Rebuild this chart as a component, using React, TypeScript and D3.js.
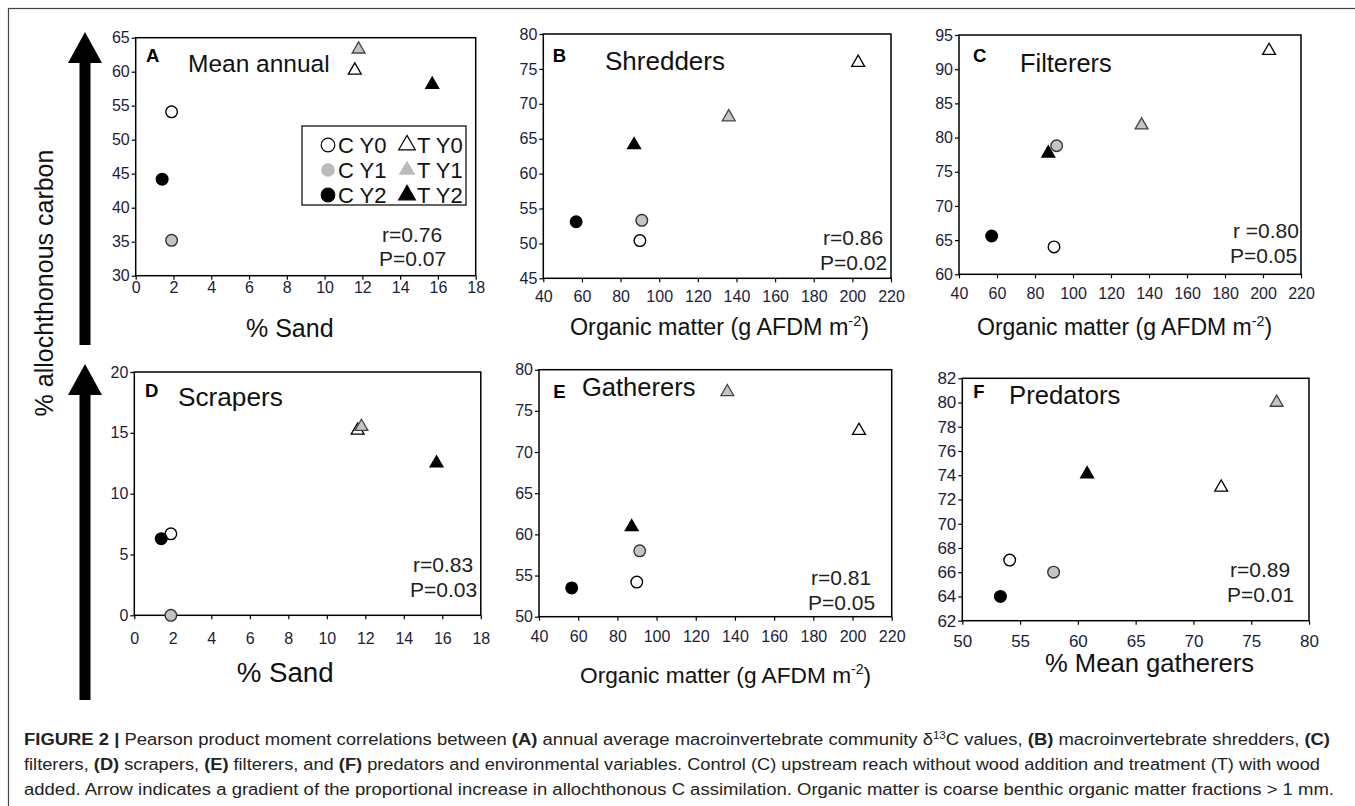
import * as d3 from "d3";
import { useEffect, useRef } from "react";

// groups: control / treatment reach, years 0-2
const groups = ["C Y0", "C Y1", "C Y2", "T Y0", "T Y1", "T Y2"];

// A - mean annual vs % sand
const meanSand = [1.9, 1.9, 1.4, 11.6, 11.8, 15.7];
const meanAlloc = [54.1, 35.2, 44.2, 60.2, 63.3, 58.1];
// B - shredders vs organic matter
const shredOM = [90, 91, 57, 203, 136, 87];
const shredAlloc = [50.4, 53.3, 53.1, 75.9, 68.1, 64.1];
// C - filterers vs organic matter
const filterOM = [90, 91.4, 57.2, 203.2, 136.1, 87];
const filterAlloc = [64, 78.8, 65.6, 92.7, 81.8, 77.7];
// D - scrapers vs % sand
const scraperSand = [1.9, 1.9, 1.4, 11.6, 11.8, 15.7];
const scraperAlloc = [6.7, 0, 6.3, 15.2, 15.5, 12.5];
// E - gatherers vs organic matter
const gatherOM = [89.9, 91.4, 56.7, 203.3, 136.1, 87.3];
const gatherAlloc = [54.2, 58.0, 53.5, 72.6, 77.3, 60.9];
// F - predators vs % mean gatherers
const predGatherers = [54.1, 57.9, 53.3, 72.4, 77.2, 60.8];
const predAlloc = [67, 66, 64, 73, 80, 74.1];

const sandTicks = [0, 2, 4, 6, 8, 10, 12, 14, 16, 18];
const omTicks = [40, 60, 80, 100, 120, 140, 160, 180, 200, 220];
const gathererTicks = [50, 55, 60, 65, 70, 75, 80];
const yTicksA = [30, 35, 40, 45, 50, 55, 60, 65];
const yTicksB = [45, 50, 55, 60, 65, 70, 75, 80];
const yTicksC = [60, 65, 70, 75, 80, 85, 90, 95];
const yTicksD = [0, 5, 10, 15, 20];
const yTicksE = [50, 55, 60, 65, 70, 75, 80];
const yTicksF = [62, 64, 66, 68, 70, 72, 74, 76, 78, 80, 82];

const panelLetters = ["A", "B", "C", "D", "E", "F"];
const panelTitles = ["Mean annual", "Shredders", "Filterers", "Scrapers", "Gatherers", "Predators"];
const rLabels = ["r=0.76", "r=0.86", "r =0.80", "r=0.83", "r=0.81", "r=0.89"];
const pLabels = ["P=0.07", "P=0.02", "P=0.05", "P=0.03", "P=0.05", "P=0.01"];
const xTitles = ["% Sand", "om", "om", "% Sand", "om", "% Mean gatherers"];

const FONT = "'Liberation Sans', Arial, sans-serif";
const GRAY = "#c4c4c4";

const App = () => {
  const svgRef = useRef<SVGSVGElement>(null);

  useEffect(() => {
    const svg = d3.select(svgRef.current);
    svg.selectAll("*").remove();

    // outer figure frame
    svg
      .append("rect")
      .attr("x", 8.5)
      .attr("y", 8.5)
      .attr("width", 1400)
      .attr("height", 900)
      .attr("fill", "none")
      .attr("stroke", "#444")
      .attr("stroke-width", 1.2);

    const panels = [
      { xs: meanSand, ys: meanAlloc, xd: [0, 18], yd: [30, 65], xt: sandTicks, yt: yTicksA,
        l: 135.7, r: 475.7, t: 37.7, b: 275.7, pad: 1.5, fs: 16,
        letter: [146, 62.3], title: [188, 71.5, 24.5], stats: [379, 241.7, 265.5], xTitle: [246, 337, 25] },
      { xs: shredOM, ys: shredAlloc, xd: [40, 220], yd: [45, 80], xt: omTicks, yt: yTicksB,
        l: 543.3, r: 891, t: 34, b: 278.3, pad: 8.5, fs: 16,
        letter: [552.7, 61.7], title: [605, 69.5, 26], stats: [820, 245, 270], xTitle: [570, 335, 23.3] },
      { xs: filterOM, ys: filterAlloc, xd: [40, 220], yd: [60, 95], xt: omTicks, yt: yTicksC,
        l: 959, r: 1301, t: 35, b: 274.3, pad: 9, fs: 16,
        letter: [973, 61.7], title: [1020, 71.7, 25.4], stats: [1230, 238.3, 263.3], xTitle: [977, 335, 23] },
      { xs: scraperSand, ys: scraperAlloc, xd: [0, 18], yd: [0, 20], xt: sandTicks, yt: yTicksD,
        l: 134.3, r: 480.8, t: 372, b: 615.3, pad: 13, fs: 16,
        letter: [145, 396.7], title: [178, 406, 26.2], stats: [410, 571.7, 596.7], xTitle: [236.7, 681.7, 27.7] },
      { xs: gatherOM, ys: gatherAlloc, xd: [40, 220], yd: [50, 80], xt: omTicks, yt: yTicksE,
        l: 539, r: 891.7, t: 369.7, b: 616.7, pad: 10, fs: 16,
        letter: [553.3, 398.3], title: [582, 396, 25.5], stats: [808, 585, 610], xTitle: [580, 683.3, 22.7] },
      { xs: predGatherers, ys: predAlloc, xd: [50, 80], yd: [62, 82], xt: gathererTicks, yt: yTicksF,
        l: 962.3, r: 1309, t: 378.3, b: 620.7, pad: 10, fs: 17,
        letter: [973.3, 398.3], title: [1009, 404.3, 25.7], stats: [1227, 576.7, 601.7], xTitle: [1045, 672, 25.6] },
    ];

    const circle = (i: number) => i < 3;
    const fillOf = (i: number) => ["#fff", GRAY, "#000"][i % 3];
    const triangle = d3.symbol().type(d3.symbolTriangle);

    panels.forEach((p, k) => {
      const x = d3.scaleLinear().domain(p.xd).range([p.l, p.r]);
      const y = d3.scaleLinear().domain(p.yd).range([p.b, p.t]);
      const g = svg.append("g");

      const xAxis = g
        .append("g")
        .attr("transform", `translate(0,${p.b})`)
        .call(d3.axisBottom(x).tickValues(p.xt).tickSize(4).tickSizeOuter(0).tickPadding(p.pad));
      const yAxis = g
        .append("g")
        .attr("transform", `translate(${p.l},0)`)
        .call(d3.axisLeft(y).tickValues(p.yt).tickSize(4).tickSizeOuter(0).tickPadding(2));
      [xAxis, yAxis].forEach((ax) => {
        ax.select(".domain").remove();
        ax.selectAll("line").attr("stroke", "#000").attr("stroke-width", 1.2);
        ax.selectAll("text")
          .attr("font-family", FONT)
          .attr("font-size", p.fs)
          .attr("fill", "#1c1c3c");
      });

      g.append("rect")
        .attr("x", p.l)
        .attr("y", p.t)
        .attr("width", p.r - p.l)
        .attr("height", p.b - p.t)
        .attr("fill", "none")
        .attr("stroke", "#000")
        .attr("stroke-width", 1.5);

      // points
      const pts = groups.map((grp, i) => ({ grp, i, x: p.xs[i], y: p.ys[i] }));
      g.selectAll(".dot")
        .data(pts.filter((d) => circle(d.i)))
        .enter()
        .append("circle")
        .attr("cx", (d) => x(d.x))
        .attr("cy", (d) => y(d.y))
        .attr("r", 5.8)
        .attr("fill", (d) => fillOf(d.i))
        .attr("stroke", (d) => (d.i === 1 ? "#333" : "#000"))
        .attr("stroke-width", 1.4);
      g.selectAll(".tri")
        .data(pts.filter((d) => !circle(d.i)))
        .enter()
        .append("path")
        .attr("d", triangle.size(72)())
        .attr("transform", (d) => `translate(${x(d.x)},${y(d.y)})`)
        .attr("fill", (d) => fillOf(d.i))
        .attr("stroke", (d) => (d.i === 4 ? "#444" : "#000"))
        .attr("stroke-width", 1.3);

      // labels
      g.append("text")
        .attr("x", p.letter[0])
        .attr("y", p.letter[1])
        .attr("font-family", FONT)
        .attr("font-weight", "bold")
        .attr("font-size", 18.5)
        .text(panelLetters[k]);
      g.append("text")
        .attr("x", p.title[0])
        .attr("y", p.title[1])
        .attr("font-family", FONT)
        .attr("font-size", p.title[2])
        .attr("fill", "#111")
        .text(panelTitles[k]);
      g.append("text")
        .attr("x", p.stats[0] + 3)
        .attr("y", p.stats[1])
        .attr("font-family", FONT)
        .attr("font-size", 21)
        .attr("fill", "#222")
        .text(rLabels[k]);
      g.append("text")
        .attr("x", p.stats[0])
        .attr("y", p.stats[2])
        .attr("font-family", FONT)
        .attr("font-size", 21)
        .attr("fill", "#222")
        .text(pLabels[k]);

      const xt = g
        .append("text")
        .attr("x", p.xTitle[0])
        .attr("y", p.xTitle[1])
        .attr("font-family", FONT)
        .attr("font-size", p.xTitle[2])
        .attr("fill", "#111");
      if (xTitles[k] === "om") {
        xt.append("tspan").text("Organic matter (g AFDM m");
        xt.append("tspan").attr("dy", -9).attr("font-size", p.xTitle[2] * 0.62).text("-2");
        xt.append("tspan").attr("dy", 9).text(")");
      } else {
        xt.text(xTitles[k]);
      }
    });

    // legend in panel A
    const lg = svg.append("g");
    lg.append("rect")
      .attr("x", 302)
      .attr("y", 126)
      .attr("width", 164)
      .attr("height", 79)
      .attr("fill", "#fff")
      .attr("stroke", "#000")
      .attr("stroke-width", 1.2);
    const rowY = d3.scalePoint().domain(["0", "1", "2"]).range([145, 195]);
    groups.forEach((grp, i) => {
      const yy = rowY(String(i % 3)) as number;
      const cx = circle(i) ? 328 : 407;
      if (circle(i)) {
        lg.append("circle")
          .attr("cx", cx)
          .attr("cy", yy)
          .attr("r", 6.8)
          .attr("fill", i === 1 ? "#bbb" : fillOf(i))
          .attr("stroke", i === 1 ? "none" : "#000")
          .attr("stroke-width", 1.2);
      } else {
        lg.append("path")
          .attr("d", triangle.size(120)())
          .attr("transform", `translate(${cx},${yy})`)
          .attr("fill", i === 4 ? "#bbb" : fillOf(i))
          .attr("stroke", i === 4 ? "none" : "#000")
          .attr("stroke-width", 1.2);
      }
      lg.append("text")
        .attr("x", cx + 10)
        .attr("y", yy + 7.8)
        .attr("font-family", FONT)
        .attr("font-size", 22)
        .attr("fill", "#111")
        .text(grp);
    });

    // gradient arrows
    const arrow = (tip: number, base: number) =>
      `M85,${tip} L102,${tip + 31} L90.5,${tip + 31} L90.5,${base} L79.5,${base} L79.5,${tip + 31} L68,${tip + 31} Z`;
    svg.append("path").attr("d", arrow(32, 345)).attr("fill", "#000");
    svg.append("path").attr("d", arrow(364, 700)).attr("fill", "#000");

    svg
      .append("text")
      .attr("transform", "translate(53,283) rotate(-90)")
      .attr("text-anchor", "middle")
      .attr("font-family", FONT)
      .attr("font-size", 25)
      .attr("fill", "#111")
      .text("% allochthonous carbon");

    // caption
    type Seg = [string, boolean, boolean?];
    const lines: { y: number; len: number; segs: Seg[] }[] = [
      {
        y: 745,
        len: 1306,
        segs: [
          ["FIGURE 2 |", true],
          [" Pearson product moment correlations between ", false],
          ["(A)", true],
          [" annual average macroinvertebrate community δ", false],
          ["13", false, true],
          ["C values, ", false],
          ["(B)", true],
          [" macroinvertebrate shredders, ", false],
          ["(C)", true],
        ],
      },
      {
        y: 770,
        len: 1296,
        segs: [
          ["filterers, ", false],
          ["(D)", true],
          [" scrapers, ", false],
          ["(E)", true],
          [" filterers, and ", false],
          ["(F)", true],
          [" predators and environmental variables. Control (C) upstream reach without wood addition and treatment (T) with wood", false],
        ],
      },
      {
        y: 795,
        len: 1310,
        segs: [
          ["added. Arrow indicates a gradient of the proportional increase in allochthonous C assimilation. Organic matter is coarse benthic organic matter fractions > 1 mm.", false],
        ],
      },
    ];
    lines.forEach((ln) => {
      const t = svg
        .append("text")
        .attr("x", 24)
        .attr("y", ln.y)
        .attr("font-family", FONT)
        .attr("font-size", 16)
        .attr("fill", "#222")
        .attr("textLength", ln.len)
        .attr("lengthAdjust", "spacingAndGlyphs");
      ln.segs.forEach(([s, bold, sup]) => {
        const ts = t.append("tspan").text(s);
        if (bold) ts.attr("font-weight", "bold");
        if (sup) ts.attr("font-size", 10).attr("dy", -6);
        if (s === "C values, ") ts.attr("dy", 6);
      });
    });
  }, []);

  return (
    <svg
      ref={svgRef}
      width={1355}
      height={806}
      style={{ position: "absolute", left: 0, top: 0, background: "#fff" }}
    ></svg>
  );
};

export default App;
